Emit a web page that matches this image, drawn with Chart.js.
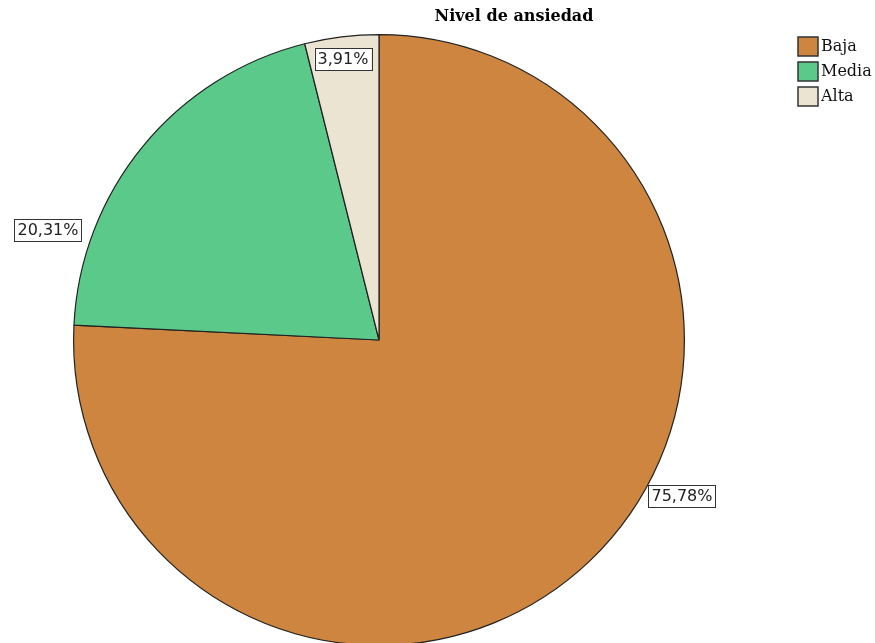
<!DOCTYPE html>
<html>
<head>
<meta charset="utf-8">
<script src="https://cdn.jsdelivr.net/npm/chart.js@4.4.0/dist/chart.umd.min.js"></script>
<style>
  html, body { margin: 0; padding: 0; background: #fff; }
  #wrap { width: 875px; height: 643px; overflow: hidden; position: relative; }
  #chart { display: block; }
</style>
</head>
<body>
<div id="wrap"><canvas id="chart" width="875" height="660"></canvas></div>
<script>
// ── DATA ────────────────────────────────────────────────────────────────────
const categories = ['Baja', 'Media', 'Alta'];
const percents = [75.78, 20.31, 3.91];
const colors = ['#cd853f', '#5bc98a', '#ebe4d2'];
const title = 'Nivel de ansiedad';

// label box centres (SPSS puts them around the rim)
const labelPos = [[682, 496], [48, 230], [343, 59]];

const fmt = v => v.toFixed(2).replace('.', ',') + '%';

const overlay = {
  id: 'overlay',
  afterDatasetsDraw(chart) {
    const ctx = chart.ctx;
    ctx.save();

    // title
    ctx.fillStyle = '#000';
    ctx.font = 'bold 16px "DejaVu Serif"';
    ctx.textAlign = 'center';
    ctx.textBaseline = 'middle';
    ctx.fillText(title, 514, 17);

    // legend
    ctx.font = '16px "DejaVu Serif"';
    ctx.textAlign = 'left';
    categories.forEach((c, i) => {
      const y = 37 + i * 25;
      ctx.fillStyle = colors[i];
      ctx.fillRect(798, y, 20, 19);
      ctx.strokeStyle = '#333';
      ctx.lineWidth = 1.5;
      ctx.strokeRect(798, y, 20, 19);
      ctx.fillStyle = '#111';
      ctx.fillText(c, 821, y + 10);
    });

    // value labels
    ctx.font = '16px "DejaVu Sans"';
    ctx.textAlign = 'center';
    percents.forEach((v, i) => {
      const [x, y] = labelPos[i];
      const txt = fmt(v);
      const w = ctx.measureText(txt).width + 6;
      const h = 22;
      ctx.fillStyle = '#fff';
      ctx.fillRect(x - w / 2, y - h / 2, w, h);
      ctx.strokeStyle = '#333';
      ctx.lineWidth = 1;
      ctx.strokeRect(Math.round(x - w / 2) + 0.5, Math.round(y - h / 2) + 0.5, Math.round(w), h);
      ctx.fillStyle = '#222';
      ctx.fillText(txt, x, y + 1);
    });
    ctx.restore();
  }
};

new Chart(document.getElementById('chart').getContext('2d'), {
  type: 'pie',
  data: {
    labels: categories,
    datasets: [{
      data: percents,
      backgroundColor: colors,
      borderColor: '#222',
      borderWidth: 1.2
    }]
  },
  options: {
    responsive: false,
    animation: false,
    layout: { padding: { left: 73, right: 190, top: 34, bottom: 14 } },
    plugins: {
      legend: { display: false },
      title: { display: false },
      tooltip: { enabled: false }
    }
  },
  plugins: [overlay]
});
</script>
</body>
</html>
